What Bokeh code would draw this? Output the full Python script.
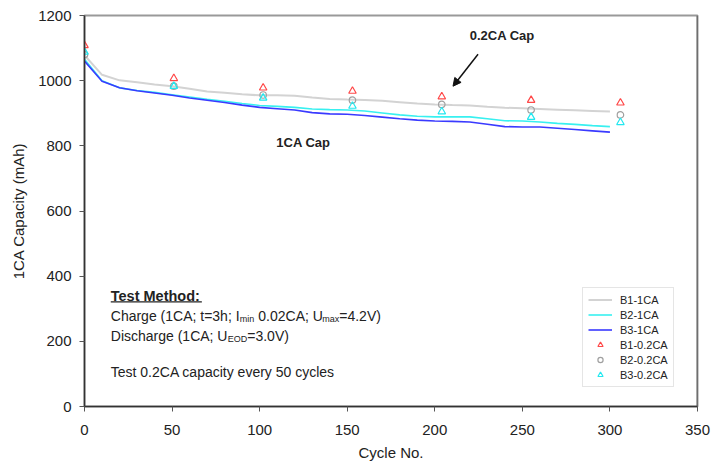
from bokeh.plotting import figure
from bokeh.models import (Range1d, SingleIntervalTicker, Legend, LegendItem, Label,
                          Arrow, NormalHead, Span)
from bokeh.embed import file_html
from bokeh.resources import INLINE

# ---------------- data ----------------
cycles = [0, 10, 20, 30, 40, 50, 60, 70, 80, 90, 100, 110, 120, 130, 140, 150,
          160, 170, 180, 190, 200, 210, 220, 230, 240, 250, 260, 270, 280, 290, 300]
b1_1ca = [1078, 1018, 1001, 995, 988, 983, 975, 967, 963, 958, 955, 955, 954, 948, 944, 942,
          941, 938, 934, 930, 927, 925, 924, 920, 917, 915, 913, 911, 909, 907, 905]
b2_1ca = [1066, 1000, 978, 970, 964, 957, 950, 943, 937, 930, 924, 921, 918, 913, 911, 910,
          907, 901, 895, 891, 889, 889, 889, 883, 877, 876, 873, 869, 866, 862, 859]
b3_1ca = [1060, 998, 978, 969, 962, 955, 947, 940, 933, 925, 918, 914, 910, 902, 898, 897,
          893, 888, 883, 879, 876, 875, 873, 866, 859, 858, 858, 854, 850, 846, 842]

cycles_02 = [0, 51, 102, 153, 204, 255, 306]
b1_02ca = [1108, 1007, 978, 968, 951, 940, 932]
b2_02ca = [1080, 983, 956, 940, 927, 910, 895]
b3_02ca = [1088, 983, 947, 922, 905, 888, 872]

x_ticks_interval = 50
y_ticks_interval = 200

FONT = "Liberation Sans"
TXT = "#222222"

p = figure(width=718, height=463, output_backend="svg", toolbar_location=None,
           x_range=Range1d(0, 350), y_range=Range1d(0, 1200),
           min_border_left=84, min_border_right=21, min_border_top=15, min_border_bottom=55)
p.xgrid.visible = False
p.ygrid.visible = False
p.outline_line_color = "#999999"
p.outline_line_width = 2
p.background_fill_color = "white"

for ax, iv in ((p.xaxis[0], x_ticks_interval), (p.yaxis[0], y_ticks_interval)):
    ax.ticker = SingleIntervalTicker(interval=iv, num_minor_ticks=0)
    ax.axis_line_color = "#333333"
    ax.axis_line_width = 1.5
    ax.major_tick_line_color = "#555555"
    ax.major_tick_out = 5
    ax.major_tick_in = 0
    ax.minor_tick_line_color = None
    ax.major_label_text_font = FONT
    ax.major_label_text_font_size = "15px"
    ax.major_label_text_color = TXT
    ax.axis_label_text_font = FONT
    ax.axis_label_text_font_size = "15px"
    ax.axis_label_text_font_style = "normal"
    ax.axis_label_text_color = TXT
p.xaxis.axis_label = "Cycle No."
p.yaxis.axis_label = "1CA Capacity (mAh)"
p.xaxis.major_label_standoff = 13
p.yaxis.major_label_standoff = 8
p.xaxis.axis_label_standoff = 6
p.yaxis.axis_label_standoff = 8

p.add_layout(Span(location=350, dimension="height", line_color="#444444", line_width=1.5))

r1 = p.line(cycles, b1_1ca, line_color="#d3d3d3", line_width=2)
r2 = p.line(cycles, b2_1ca, line_color="#38f0f0", line_width=1.6)
r3 = p.line(cycles, b3_1ca, line_color="#3a3aff", line_width=1.6)

m1 = p.scatter(cycles_02, b1_02ca, marker="triangle", size=7.5, fill_color=None,
               line_color="#ff4848", line_width=1.2)
m2 = p.scatter(cycles_02, b2_02ca, marker="circle", size=6.5, fill_color=None,
               line_color="#a0a0a0", line_width=1.2)
m3 = p.scatter(cycles_02, b3_02ca, marker="triangle", size=7.5, fill_color=None,
               line_color="#22e8f0", line_width=1.2)

legend = Legend(items=[
    LegendItem(label="B1-1CA", renderers=[r1]),
    LegendItem(label="B2-1CA", renderers=[r2]),
    LegendItem(label="B3-1CA", renderers=[r3]),
    LegendItem(label="B1-0.2CA", renderers=[m1]),
    LegendItem(label="B2-0.2CA", renderers=[m2]),
    LegendItem(label="B3-0.2CA", renderers=[m3]),
], location=(498, 19))
legend.label_text_font = FONT
legend.label_text_font_size = "11px"
legend.label_text_color = TXT
legend.glyph_width = 24
legend.glyph_height = 13
legend.label_height = 13
legend.spacing = 2
legend.padding = 5
legend.margin = 0
legend.label_standoff = 8
legend.border_line_color = "#cccccc"
legend.border_line_width = 1.5
legend.background_fill_alpha = 1
p.add_layout(legend, "center")

# annotations
p.add_layout(Label(x=125, y=809, text="1CA Cap", text_font=FONT, text_font_size="13px",
                   text_font_style="bold", text_color=TXT, text_align="center",
                   text_baseline="middle"))
p.add_layout(Label(x=238.5, y=1139, text="0.2CA Cap", text_font=FONT, text_font_size="13px",
                   text_font_style="bold", text_color=TXT, text_align="center",
                   text_baseline="middle"))
p.add_layout(Arrow(x_start=224.7, y_start=1081, x_end=210.4, y_end=983,
                   line_color="#111111", line_width=1.5,
                   end=NormalHead(size=8, fill_color="#111111", line_color="#111111")))

# test method block
tx = 15
ys = [338, 279, 216, 106]


def lab(x, y, text, size="14px", style="normal", xoff=0, yoff=0):
    p.add_layout(Label(x=x, y=y, x_offset=xoff, y_offset=yoff, text=text, text_font=FONT,
                       text_font_size=size, text_font_style=style, text_color=TXT,
                       text_align="left", text_baseline="middle"))


lab(tx, ys[0], "Test Method:", style="bold", size="14.5px")
p.add_layout(Arrow(x_start=tx, y_start=ys[0] - 17, x_end=tx + 52, y_end=ys[0] - 17,
                   line_color=TXT, line_width=1.3, end=None))

# Charge line with subscripts
lab(tx, ys[1], "Charge (1CA; t=3h; I")
lab(tx, ys[1], "min", size="9px", xoff=129, yoff=-3)
lab(tx, ys[1], "0.02CA; U", xoff=147.5)
lab(tx, ys[1], "max", size="9px", xoff=211.5, yoff=-3)
lab(tx, ys[1], "=4.2V)", xoff=228.5)

# Discharge line
lab(tx, ys[2], "Discharge (1CA; U")
lab(tx, ys[2], "EOD", size="9px", xoff=117, yoff=-3)
lab(tx, ys[2], "=3.0V)", xoff=136.5)

lab(tx, ys[3], "Test 0.2CA capacity every 50 cycles")

open("out.html", "w").write(file_html(p, INLINE))
